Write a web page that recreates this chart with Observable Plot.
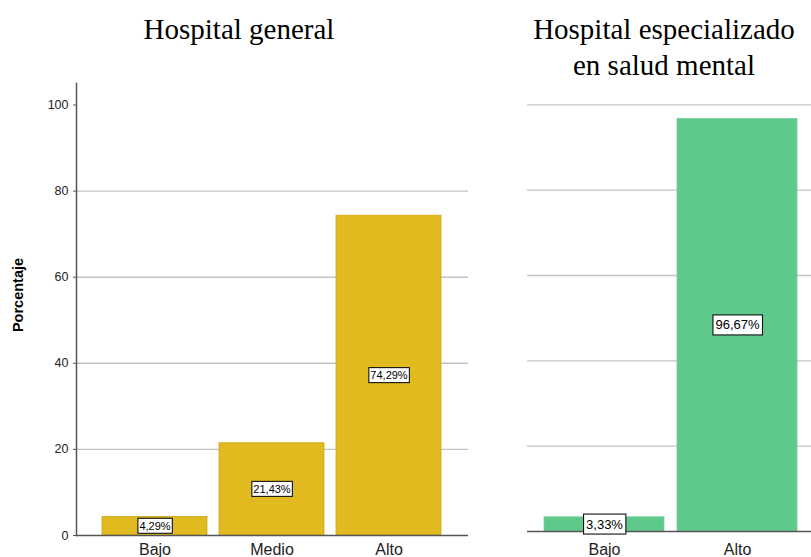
<!DOCTYPE html>
<html>
<head>
<meta charset="utf-8">
<script src="https://cdn.jsdelivr.net/npm/d3@7"></script>
<script src="https://cdn.jsdelivr.net/npm/@observablehq/plot@0.6"></script>
<style>
  body { margin: 0; background: #fff; }
  #root { position: relative; width: 811px; height: 557px; overflow: hidden; background: #fff; }
  .title { position: absolute; font-family: "Liberation Serif", "Times New Roman", serif; font-size: 29px; color: #000; text-align: center; line-height: 36px; white-space: nowrap; }
  .ylabel { position: absolute; font-family: "Liberation Sans", Arial, sans-serif; font-weight: bold; font-size: 14.5px; color: #000; transform: translate(-50%, -50%) rotate(-90deg); white-space: nowrap; }
  .panel { position: absolute; top: 0; }
  .panel svg { max-width: none !important; }
</style>
</head>
<body>
<div id="root">
  <div class="title" id="t1" style="left:139px; top:11px; width:200px;"></div>
  <div class="title" id="t2" style="left:514px; top:11px; width:300px;"></div>
  <div class="ylabel" id="yl" style="left:18px; top:295px;"></div>
  <div class="panel" id="left" style="left:0px; width:480px;"></div>
  <div class="panel" id="right" style="left:480px; width:335px;"></div>
</div>
<script>
// ---- data ----
const titleGeneral = "Hospital general";
const titleEspecial = ["Hospital especializado", "en salud mental"];
const yAxisLabel = "Porcentaje";
const catsGeneral = ["Bajo", "Medio", "Alto"];
const valsGeneral = [4.29, 21.43, 74.29];
const catsEspecial = ["Bajo", "Alto"];
const valsEspecial = [3.33, 96.67];
const yTicks = [0, 20, 40, 60, 80, 100];
const gridGeneral = [20, 40, 60, 80];
const gridEspecial = [20, 40, 60, 80, 100];

document.getElementById("t1").textContent = titleGeneral;
document.getElementById("t2").innerHTML = titleEspecial.join("<br>");
document.getElementById("yl").textContent = yAxisLabel;

const fmt = v => v.toFixed(2).replace(".", ",") + "%";
const dataGeneral = catsGeneral.map((c, i) => ({cat: c, val: valsGeneral[i]}));
const dataEspecial = catsEspecial.map((c, i) => ({cat: c, val: valsEspecial[i]}));

const fontStyle = {fontFamily: "'Liberation Sans', Arial, sans-serif", color: "#222", background: "transparent", overflow: "visible", maxWidth: "none"};

const left = Plot.plot({
  width: 480, height: 557,
  marginLeft: 76, marginRight: 12, marginTop: 83, marginBottom: 22,
  style: fontStyle,
  x: {domain: catsGeneral, paddingInner: 0.1, paddingOuter: 0.2145},
  y: {domain: [0, 105]},
  marks: [
    Plot.ruleY(gridGeneral, {stroke: "#c2c2c2", strokeWidth: 1.4}),
    Plot.barY(dataGeneral, {x: "cat", y: "val", fill: "#E0BA1E", stroke: "#CDA814", strokeWidth: 0.8}),
    Plot.frame({anchor: "left", stroke: "#555", strokeWidth: 1.5}),
    Plot.ruleY([0], {stroke: "#555", strokeWidth: 1.5}),
    Plot.axisY({ticks: yTicks, tickSize: 3, tickPadding: 5, fontSize: 12.5, label: null, stroke: "#555"}),
    Plot.axisX({tickSize: 0, tickPadding: 8, fontSize: 16, label: null}),
    Plot.text(dataGeneral, {x: "cat", y: d => d.val / 2, text: d => fmt(d.val), fontSize: 11, fill: "#000"})
  ]
});

const right = Plot.plot({
  width: 335, height: 557,
  marginLeft: 47, marginRight: 2, marginTop: 83, marginBottom: 26,
  style: fontStyle,
  x: {domain: catsEspecial, paddingInner: 0.1, paddingOuter: 0.125},
  y: {domain: [0, 105], axis: null},
  marks: [
    Plot.ruleY(gridEspecial, {stroke: "#c2c2c2", strokeWidth: 1.4}),
    Plot.barY(dataEspecial, {x: "cat", y: "val", fill: "#5EC98A", stroke: "#72D29A", strokeWidth: 0.8}),
    Plot.ruleY([0], {stroke: "#555", strokeWidth: 1.5}),
    Plot.axisX({tickSize: 0, tickPadding: 12, fontSize: 16, label: null}),
    Plot.text(dataEspecial, {x: "cat", y: d => d.val / 2, text: d => fmt(d.val), fontSize: 13, fill: "#000"})
  ]
});

document.getElementById("left").appendChild(left);
document.getElementById("right").appendChild(right);

function boxLabels(svg, padX, padY) {
  svg.querySelectorAll('g[aria-label="text"] text').forEach(t => {
    const b = t.getBBox();
    const r = document.createElementNS("http://www.w3.org/2000/svg", "rect");
    r.setAttribute("x", b.x - padX);
    r.setAttribute("y", b.y - padY);
    r.setAttribute("width", b.width + 2 * padX);
    r.setAttribute("height", b.height + 2 * padY);
    r.setAttribute("fill", "#fff");
    r.setAttribute("stroke", "#111");
    r.setAttribute("stroke-width", "1.1");
    const tr = t.getAttribute("transform");
    if (tr) r.setAttribute("transform", tr);
    t.parentNode.insertBefore(r, t);
  });
}
boxLabels(left, 1.5, 1.5);
boxLabels(right, 2.5, 2.5);
</script>
</body>
</html>
